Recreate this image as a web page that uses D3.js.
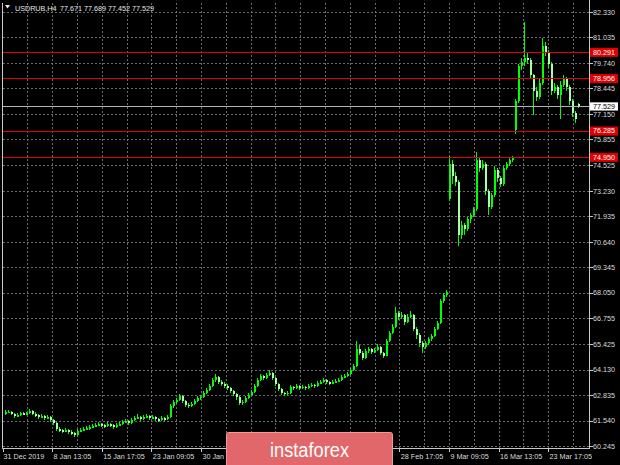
<!DOCTYPE html>
<html>
<head>
<meta charset="utf-8">
<script src="https://cdn.jsdelivr.net/npm/d3@7/dist/d3.min.js"></script>
<style>
html,body{margin:0;padding:0;background:#000;}
svg{display:block;}
text{font-family:"Liberation Sans",Arial,sans-serif;}
</style>
</head>
<body>
<svg id="chart" width="620" height="465"></svg>
<script>
// ---- data ----
const symbol = "USDRUB,H4";
const headerValues = "77.671 77.689 77.452 77.529";
const priceLabels = ["82.330","81.035","79.740","78.445","77.150","75.855","74.525","73.230","71.935","70.640","69.345","68.050","66.755","65.425","64.130","62.835","61.540","60.245"];
const timeLabels = ["31 Dec 2019","8 Jan 13:05","15 Jan 17:05","23 Jan 09:05","30 Jan 13:05","6 Feb 17:05","14 Feb 09:05","21 Feb 13:05","28 Feb 17:05","9 Mar 09:05","16 Mar 13:05","23 Mar 17:05"];
const levelLines = [80.291, 78.956, 76.285, 74.950];
const currentPrice = 77.529;

const opens = [61.90,61.95,62.00,61.85,61.75,61.80,61.90,61.85,61.90,62.05,61.85,61.80,61.70,61.75,61.65,61.70,61.55,61.40,61.10,61.05,
61.00,61.05,60.95,60.90,60.80,61.00,61.05,61.10,61.15,61.20,61.25,61.30,61.35,61.30,61.25,61.35,61.30,61.20,61.30,61.35,
61.45,61.50,61.40,61.55,61.65,61.70,61.60,61.70,61.75,61.65,61.70,61.60,61.55,61.65,61.60,61.70,62.30,62.50,62.60,62.80,
62.55,62.35,62.30,62.40,62.55,62.70,62.75,62.95,63.10,63.30,63.60,63.75,63.50,63.40,63.30,63.20,63.05,62.90,62.75,62.45,
62.50,62.70,62.85,63.00,63.30,63.60,63.80,63.70,63.85,63.95,63.70,63.40,63.15,62.95,62.90,62.95,63.25,63.20,63.30,63.20,
63.25,63.20,63.30,63.35,63.30,63.45,63.50,63.60,63.50,63.45,63.50,63.55,63.60,63.75,63.80,63.90,64.10,64.30,65.20,65.00,
64.70,65.10,65.20,65.05,65.15,65.30,65.00,64.85,65.60,66.00,66.30,67.00,66.80,66.90,66.55,66.80,66.90,66.20,65.90,65.50,
65.30,65.50,65.70,65.85,66.20,66.50,67.60,67.95,72.80,74.60,74.00,73.70,71.00,71.50,71.30,71.80,72.00,72.30,74.80,74.40,
74.60,73.20,72.40,73.00,74.30,73.90,73.60,74.40,74.60,74.80,76.30,77.80,79.60,79.80,80.00,79.90,79.10,78.30,78.00,78.70,
80.60,80.30,79.70,78.30,78.50,78.10,78.60,78.90,78.50,77.80,77.20,77.671];
const highs = [62.10,62.10,62.05,61.90,61.90,62.00,61.95,62.00,62.15,62.10,61.95,61.85,61.85,61.80,61.80,61.75,61.60,61.45,61.20,61.10,
61.15,61.10,61.05,60.95,61.10,61.15,61.20,61.25,61.30,61.35,61.40,61.45,61.40,61.35,61.45,61.40,61.35,61.40,61.45,61.55,
61.60,61.55,61.65,61.75,61.85,61.75,61.80,61.85,61.80,61.80,61.75,61.65,61.75,61.70,61.80,62.40,62.60,62.70,62.90,62.85,
62.60,62.45,62.50,62.65,62.80,62.85,63.05,63.20,63.40,63.70,63.90,63.80,63.60,63.50,63.40,63.25,63.10,62.95,62.80,62.60,
62.80,62.95,63.10,63.40,63.70,63.90,63.85,63.95,64.10,64.00,63.75,63.45,63.20,63.00,63.05,63.35,63.30,63.40,63.35,63.35,
63.30,63.40,63.45,63.40,63.55,63.60,63.70,63.65,63.55,63.60,63.65,63.70,63.85,63.90,64.00,64.20,64.40,65.60,65.40,65.10,
65.20,65.30,65.25,65.25,65.45,65.35,65.05,65.70,66.10,66.45,67.30,67.10,67.05,66.95,66.95,67.10,66.95,66.30,66.00,65.60,
65.60,65.80,65.95,66.30,66.60,67.70,68.05,68.20,75.00,74.80,74.20,73.80,71.70,71.60,71.90,72.10,72.40,75.20,74.90,74.80,
74.70,73.30,73.10,74.50,74.40,74.00,74.50,74.70,74.90,75.00,77.90,79.70,80.00,81.80,80.30,80.00,79.20,78.50,78.90,81.00,
80.80,80.40,79.80,78.70,78.60,78.80,79.10,79.00,78.60,77.90,77.30,77.689];
const lows = [61.80,61.90,61.80,61.65,61.70,61.75,61.80,61.80,61.85,61.80,61.70,61.60,61.65,61.55,61.60,61.45,61.30,61.00,60.95,60.90,
60.95,60.85,60.80,60.70,60.75,60.95,61.00,61.05,61.05,61.15,61.20,61.25,61.20,61.15,61.20,61.20,61.10,61.15,61.25,61.30,
61.40,61.30,61.35,61.50,61.60,61.50,61.55,61.65,61.55,61.60,61.50,61.45,61.50,61.50,61.55,61.65,62.20,62.40,62.55,62.45,
62.25,62.20,62.25,62.35,62.50,62.60,62.70,62.90,63.05,63.25,63.50,63.40,63.30,63.20,63.10,62.95,62.80,62.60,62.35,62.35,
62.45,62.65,62.80,62.95,63.25,63.55,63.60,63.65,63.80,63.60,63.30,63.05,62.85,62.80,62.85,62.90,63.10,63.15,63.10,63.15,
63.10,63.15,63.25,63.20,63.25,63.40,63.45,63.40,63.35,63.40,63.45,63.50,63.55,63.70,63.75,63.85,64.05,64.25,64.90,64.60,
64.65,65.00,64.95,65.00,65.10,64.90,64.70,64.80,65.55,65.95,66.25,66.65,66.70,66.40,66.50,66.75,66.10,65.70,65.30,65.00,
65.20,65.40,65.60,65.80,66.15,66.45,67.50,67.85,72.70,73.60,73.50,70.40,70.80,71.00,71.20,71.60,71.90,72.20,74.20,74.30,
73.00,72.00,72.30,72.90,73.70,73.40,73.50,74.30,74.50,74.70,76.10,77.70,79.40,79.60,79.70,78.90,77.10,77.80,77.90,78.60,
80.10,79.50,78.10,78.20,77.90,76.90,78.50,78.30,77.60,77.00,76.70,77.452];
const closes = [61.95,62.00,61.85,61.75,61.80,61.90,61.85,61.90,62.05,61.85,61.80,61.70,61.75,61.65,61.70,61.55,61.40,61.10,61.05,61.00,
61.05,60.95,60.90,60.80,61.00,61.05,61.10,61.15,61.20,61.25,61.30,61.35,61.30,61.25,61.35,61.30,61.20,61.30,61.35,61.45,
61.50,61.40,61.55,61.65,61.70,61.60,61.70,61.75,61.65,61.70,61.60,61.55,61.65,61.60,61.70,62.30,62.50,62.60,62.80,62.55,
62.35,62.30,62.40,62.55,62.70,62.75,62.95,63.10,63.30,63.60,63.75,63.50,63.40,63.30,63.20,63.05,62.90,62.75,62.45,62.50,
62.70,62.85,63.00,63.30,63.60,63.80,63.70,63.85,63.95,63.70,63.40,63.15,62.95,62.90,62.95,63.25,63.20,63.30,63.20,63.25,
63.20,63.30,63.35,63.30,63.45,63.50,63.60,63.50,63.45,63.50,63.55,63.60,63.75,63.80,63.90,64.10,64.30,65.20,65.00,64.70,
65.10,65.20,65.05,65.15,65.30,65.00,64.85,65.60,66.00,66.30,67.00,66.80,66.90,66.55,66.80,66.90,66.20,65.90,65.50,65.30,
65.50,65.70,65.85,66.20,66.50,67.60,67.95,68.10,74.60,74.00,73.70,71.00,71.50,71.30,71.80,72.00,72.30,74.80,74.40,74.60,
73.20,72.40,73.00,74.30,73.90,73.60,74.40,74.60,74.80,74.90,77.80,79.60,79.80,80.00,79.90,79.10,78.30,78.00,78.70,80.60,
80.30,79.70,78.30,78.50,78.10,78.60,78.90,78.50,77.80,77.20,76.90,77.529];

// ---- layout ----
const W = 620, H = 465;
const plotL = 2.5, plotR = 589.5, plotB = 448.5;
const logoBox = {x: 226.5, y: 432.5, w: 166, h: 36};
const svg = d3.select("#chart");
svg.append("rect").attr("width", W).attr("height", H).attr("fill", "#000");

const n = closes.length;
const x = d3.scaleLinear().domain([0, n - 1]).range([5, 578]);
const y = d3.scaleLinear().domain([60.245, 82.330]).range([446, 12]);
const tx = d3.scaleLinear().domain([0, timeLabels.length - 1]).range([2.5, 548.1]);

const gridColor = "#6a6a6a";
const axisColor = "#c8c8c8";
const textColor = "#dcdcdc";

// grid
const g = svg.append("g").attr("shape-rendering", "crispEdges");
const vGrid = d3.range(1, 2 * (timeLabels.length - 1) + 2).map(k => tx(k / 2));
g.selectAll("line.vg").data(vGrid.filter(v => v < plotR - 4)).join("line")
  .attr("x1", d => Math.round(d) + 0.5).attr("x2", d => Math.round(d) + 0.5)
  .attr("y1", 3).attr("y2", plotB)
  .attr("stroke", gridColor).attr("stroke-dasharray", "2,2");
g.selectAll("line.hg").data(priceLabels).join("line")
  .attr("x1", plotL).attr("x2", plotR)
  .attr("y1", d => Math.round(y(+d)) + 0.5).attr("y2", d => Math.round(y(+d)) + 0.5)
  .attr("stroke", gridColor).attr("stroke-dasharray", "2,2");

// candles
const idx = d3.range(n);
const cg = svg.append("g").attr("shape-rendering", "crispEdges");
cg.selectAll("line.wick").data(idx).join("line")
  .attr("x1", i => x(i) + 0.5).attr("x2", i => x(i) + 0.5)
  .attr("y1", i => y(highs[i])).attr("y2", i => y(lows[i]))
  .attr("stroke", "#00ff00").attr("stroke-width", 1);
cg.selectAll("rect.body").data(idx).join("rect")
  .attr("x", i => x(i) - 0.5)
  .attr("width", 2)
  .attr("y", i => y(Math.max(opens[i], closes[i])))
  .attr("height", i => Math.max(1.5, Math.abs(y(opens[i]) - y(closes[i]))))
  .attr("fill", i => closes[i] >= opens[i] ? "#00ff00" : "#a8ffa8");

// level lines
const lg = svg.append("g").attr("shape-rendering", "crispEdges");
lg.selectAll("line.lvl").data(levelLines).join("line")
  .attr("x1", plotL).attr("x2", plotR)
  .attr("y1", d => Math.round(y(d)) + 0.5).attr("y2", d => Math.round(y(d)) + 0.5)
  .attr("stroke", "#e00000").attr("stroke-width", 1);
lg.append("line")
  .attr("x1", plotL).attr("x2", plotR)
  .attr("y1", Math.round(y(currentPrice)) + 0.5).attr("y2", Math.round(y(currentPrice)) + 0.5)
  .attr("stroke", "#b4b4b4");

// frame
const fg = svg.append("g").attr("shape-rendering", "crispEdges").attr("stroke", axisColor);
fg.append("line").attr("x1", plotL).attr("x2", plotL).attr("y1", 3).attr("y2", plotB);
fg.append("line").attr("x1", plotL).attr("x2", plotR).attr("y1", plotB).attr("y2", plotB);
fg.append("line").attr("x1", plotR).attr("x2", plotR).attr("y1", 0).attr("y2", plotB);

// right price axis
const ra = svg.append("g");
ra.selectAll("line").data(priceLabels).join("line")
  .attr("shape-rendering", "crispEdges")
  .attr("x1", plotR).attr("x2", plotR + 3)
  .attr("y1", d => Math.round(y(+d)) + 0.5).attr("y2", d => Math.round(y(+d)) + 0.5)
  .attr("stroke", axisColor);
ra.selectAll("text").data(priceLabels).join("text")
  .attr("x", 593).attr("y", d => y(+d) + 2.8)
  .attr("fill", textColor).attr("font-size", 7.2)
  .text(d => d);

// level labels
const lvLab = svg.append("g");
lvLab.selectAll("rect").data(levelLines).join("rect")
  .attr("x", 590).attr("width", 28)
  .attr("y", d => y(d) - 4.2).attr("height", 9)
  .attr("fill", "#e00000");
lvLab.selectAll("text").data(levelLines).join("text")
  .attr("x", 593).attr("y", d => y(d) + 2.7)
  .attr("fill", "#ffffff").attr("font-size", 7.2)
  .text(d => d.toFixed(3));
lvLab.append("rect").attr("x", 590).attr("width", 28)
  .attr("y", y(currentPrice) - 4).attr("height", 8.2).attr("fill", "#ffffff");
lvLab.append("text").attr("x", 593).attr("y", y(currentPrice) + 2.6)
  .attr("fill", "#000").attr("font-size", 7.2).text(currentPrice.toFixed(3));

// bottom time axis (labels lying under the watermark are not visible)
const visibleTimes = timeLabels.map((d, i) => ({d, i}))
  .filter(o => tx(o.i) < logoBox.x + 2 || tx(o.i) > logoBox.x + logoBox.w);
const ba = svg.append("g");
ba.selectAll("line").data(timeLabels).join("line")
  .attr("shape-rendering", "crispEdges")
  .attr("x1", (d, i) => Math.round(tx(i)) + 0.5).attr("x2", (d, i) => Math.round(tx(i)) + 0.5)
  .attr("y1", plotB).attr("y2", plotB + 3)
  .attr("stroke", axisColor);
ba.selectAll("text").data(visibleTimes).join("text")
  .attr("x", o => tx(o.i) + (o.i === 0 ? 1 : 1.5)).attr("y", 458.5)
  .attr("fill", textColor).attr("font-size", 7.2)
  .text(o => o.d);

// header
svg.append("path").attr("d", "M5,5 L10,5 L7.5,8.5 Z").attr("fill", "#e8e8e8");
svg.append("text").attr("x", 15).attr("y", 10.5).attr("fill", "#e8e8e8")
  .attr("font-size", 7.2).text(symbol);
svg.append("text").attr("x", 60).attr("y", 10.5).attr("fill", "#e8e8e8")
  .attr("font-size", 7.2).text(headerValues);

// watermark logo
const logo = svg.append("g");
logo.append("rect").attr("x", logoBox.x).attr("y", logoBox.y).attr("width", logoBox.w).attr("height", logoBox.h)
  .attr("rx", 2).attr("fill", "#e2676b").attr("stroke", "#f09a9c").attr("stroke-width", 1);
logo.append("text").attr("x", 270).attr("y", 457).attr("fill", "#ffffff")
  .attr("font-family", "'Open Sans', sans-serif").attr("font-weight", 300)
  .attr("font-size", 20).attr("textLength", 79).attr("lengthAdjust", "spacingAndGlyphs")
  .text("instaforex");
</script>
</body>
</html>
